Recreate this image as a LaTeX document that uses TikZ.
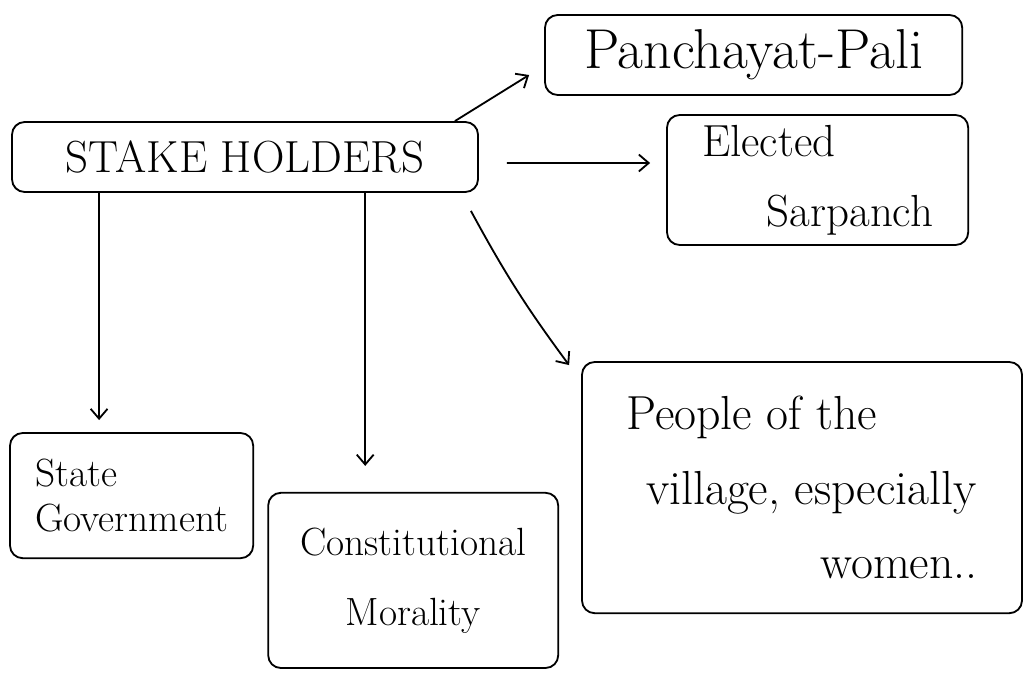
\documentclass[tikz,border=0pt]{standalone}
\usepackage{tikz}
\usetikzlibrary{arrows.meta}
\tikzstyle{holder}=[draw,line width=1.3pt,rounded corners=9pt,inner sep=2pt]

\begin{document}
\begin{tikzpicture}[line width=1.3pt,->,>={Straight Barb[length=7pt,width=12pt]}]
  \useasboundingbox (0,0) rectangle (25.625,-16.975);
  % boxes
  \node[holder,minimum width=11.65cm,minimum height=1.75cm,font=\fontsize{32}{38}\selectfont] (Stake) at (6.125,-3.925)
    {STAKE HOLDERS};
  \node[holder,minimum width=10.43cm,minimum height=2cm,font=\fontsize{40}{46}\selectfont] (Pan) at (18.84,-1.375)
    {Panchayat-Pali};
  \node[holder,minimum width=7.53cm,minimum height=3.25cm,align=left,font=\fontsize{32}{50}\selectfont] (Sar) at (20.44,-4.5)
    {Elected\\ \hspace*{46pt}Sarpanch};
  \node[holder,minimum width=6.08cm,minimum height=3.13cm,align=left,font=\fontsize{28}{32}\selectfont] (State) at (3.29,-12.39)
    {State\\ Government};
  \node[holder,minimum width=7.25cm,minimum height=4.38cm,align=center,font=\fontsize{28}{50}\selectfont] (Moral) at (10.33,-14.51)
    {Constitutional\\ Morality};
  \node[holder,minimum width=11cm,minimum height=6.28cm,align=left,font=\fontsize{34}{53}\selectfont] (People) at (20.05,-12.19)
    {People of the\\ \hspace*{14pt}village, especially\\ \hspace*{138pt}women..};
  % arrows
  \draw ([xshift=-0.6cm]Stake.north east) -- ([xshift=-0.375cm,yshift=-0.5cm]Pan.west);
  \draw ([xshift=0.7cm,yshift=-0.15cm]Stake.east) -- ([xshift=-0.4cm,yshift=0.425cm]Sar.west);
  \draw ([xshift=2.2cm]Stake.south west) -- ([xshift=2.2cm,yshift=0.3cm]Stake.south west |- State.north);
  \draw ([xshift=-1.2cm]Moral.north |- Stake.south) -- ([xshift=-1.2cm,yshift=0.65cm]Moral.north);
  \draw ([xshift=-0.2cm,yshift=-0.45cm]Stake.south east) to[bend right=4] ([xshift=-0.3cm,yshift=-0.1cm]People.north west);
\end{tikzpicture}
\end{document}
